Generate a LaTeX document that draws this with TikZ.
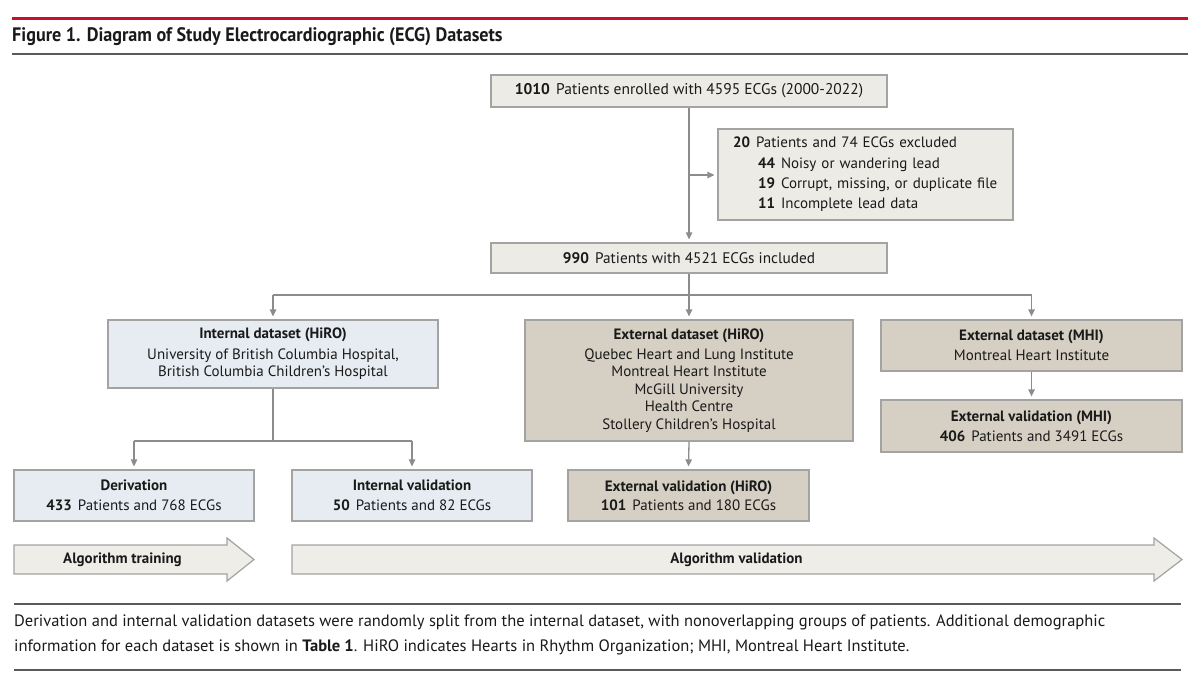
\documentclass[tikz,border=0pt]{standalone}
\usepackage{fontspec}
\setmainfont{PT Sans}
\newfontfamily\titlefont[FakeStretch=0.93]{PT Sans}
\usetikzlibrary{arrows.meta}
\definecolor{jred}{HTML}{C8102E}
\definecolor{rulegray}{HTML}{5A5A5A}
\definecolor{bord}{HTML}{A3A3A3}
\definecolor{conngray}{HTML}{8C8C8C}
\definecolor{topfill}{HTML}{ECEBE6}
\definecolor{intfill}{HTML}{E6ECF1}
\definecolor{extfill}{HTML}{D6D0C4}
\definecolor{arrfill}{HTML}{EEEDE7}
\definecolor{txt}{HTML}{1A1A1A}
\newcommand{\num}[1]{\textbf{#1}\hspace{0.4em}}
\begin{document}
\begin{tikzpicture}[x=1pt,y=-1pt,
  box/.style={draw=bord, line width=1.3pt, inner sep=0pt, align=center,
    font=\fontsize{15}{17.5}\selectfont, text=txt},
  topbox/.style={box, fill=topfill},
  intbox/.style={box, fill=intfill},
  extbox/.style={box, fill=extfill},
  conn/.style={draw=conngray, line width=1.3pt},
  arr/.style={conn, -{Triangle[length=7pt,width=6.5pt]}, shorten >=3pt},
  bigarrow/.style={draw=bord, line width=1.2pt, fill=arrfill, line join=miter},
  arrtext/.style={font=\fontsize{15}{17}\selectfont\bfseries, text=txt, inner sep=0pt},
]
\fill[white] (0,0) rectangle (1200,686);
\useasboundingbox (0,0) rectangle (1200,686);

% header
\draw[jred, line width=3pt] (12,18) -- (1188,18);
\node[anchor=west, inner sep=0pt, font=\titlefont\fontsize{19.5}{22}\selectfont\bfseries, text=txt] (title) at (12,37)
  {Figure 1. Diagram of Study Electrocardiographic (ECG) Datasets};
\draw[rulegray, line width=1.5pt] (12,54) -- (1188,54);

% boxes
\node[topbox, minimum width=396pt, minimum height=32pt, font=\fontsize{15.5}{17.5}\selectfont] (A) at (689,91)
  {\num{1010}Patients enrolled with 4595 ECGs (2000-2022)};
\node[topbox, minimum width=295pt, minimum height=91pt, text width=265pt, align=left,
  font=\fontsize{15}{20.3}\selectfont] (X) at (865.5,174.5)
  {\num{20}Patients and 74 ECGs excluded\\
   \hspace*{25pt}\num{44}Noisy or wandering lead\\
   \hspace*{25pt}\num{19}Corrupt, missing, or duplicate file\\
   \hspace*{25pt}\num{11}Incomplete lead data};
\node[topbox, minimum width=396pt, minimum height=30pt, font=\fontsize{15.3}{17.5}\selectfont] (B) at (689,258)
  {\num{990}Patients with 4521 ECGs included};

\node[intbox, minimum width=330pt, minimum height=68pt] (I) at (273,354)
  {\textbf{Internal dataset (HiRO)}\\[3pt]
   University of British Columbia Hospital,\\
   British Columbia Children’s Hospital};
\node[extbox, minimum width=328pt, minimum height=121pt] (EH) at (689,380.5)
  {\textbf{External dataset (HiRO)}\\[2.5pt]
   Quebec Heart and Lung Institute\\
   Montreal Heart Institute\\
   McGill University\\
   Health Centre\\
   Stollery Children’s Hospital};
\node[extbox, minimum width=301pt, minimum height=51pt] (EM) at (1031.5,345.5)
  {\textbf{External dataset (MHI)}\\[2.5pt]
   Montreal Heart Institute};
\node[extbox, minimum width=301pt, minimum height=52pt] (VM) at (1031.5,426)
  {\textbf{External validation (MHI)}\\[2.5pt]
   \num{406}Patients and 3491 ECGs};
\node[intbox, minimum width=240pt, minimum height=51pt] (D) at (134,495.5)
  {\textbf{Derivation}\\[2pt]
   \num{433}Patients and 768 ECGs};
\node[intbox, minimum width=240pt, minimum height=51pt] (IV) at (412,495.5)
  {\textbf{Internal validation}\\[2pt]
   \num{50}Patients and 82 ECGs};
\node[extbox, minimum width=241pt, minimum height=51pt] (VH) at (688.5,495.5)
  {\textbf{External validation (HiRO)}\\[2pt]
   \num{101}Patients and 180 ECGs};

% connectors
\coordinate (xs) at (689,175);
\draw[arr] (A.south) -- (B.north);
\draw[arr] (xs) -- (X.west |- xs);
\coordinate (b1) at (273,295);
\coordinate (b2) at (1031.5,295);
\draw[conn] (b1) -- (b2);
\draw[arr] (B.south) -- (EH.north);
\draw[arr] (b1) -- (I.north);
\draw[arr] (b2) -- (EM.north);
\coordinate (i0) at (273,441);
\coordinate (i1) at (134,441);
\coordinate (i2) at (412,441);
\draw[conn] (I.south) -- (i0);
\draw[conn] (i1) -- (i2);
\draw[arr] (i1) -- (D.north);
\draw[arr] (i2) -- (IV.north);
\draw[arr] (EH.south) -- (VH.north);
\draw[arr] (EM.south) -- (VM.north);

% algorithm arrows
\draw[bigarrow] (14,545) -- (227,545) -- (227,538) -- (254,559.5) -- (227,581) -- (227,574) -- (14,574) -- cycle;
\node[arrtext] (trn) at (122.5,559.5) {Algorithm training};
\draw[bigarrow] (292,545) -- (1154,545) -- (1154,538) -- (1182,559.5) -- (1154,581) -- (1154,574) -- (292,574) -- cycle;
\node[arrtext] (val) at (736.5,559.5) {Algorithm validation};

% footer
\draw[rulegray, line width=1.5pt] (14,604) -- (1181,604);
\node[anchor=north west, inner sep=0pt, align=left, text=txt,
  font=\fontsize{16.5}{25}\selectfont] (cap) at (14,615)
  {Derivation and internal validation datasets were randomly split from the internal dataset, with nonoverlapping groups of patients. Additional demographic\\
   information for each dataset is shown in \textbf{Table 1}. HiRO indicates Hearts in Rhythm Organization; MHI, Montreal Heart Institute.};
\draw[rulegray, line width=1.5pt] (14,670) -- (1181,670);
\end{tikzpicture}
\end{document}
